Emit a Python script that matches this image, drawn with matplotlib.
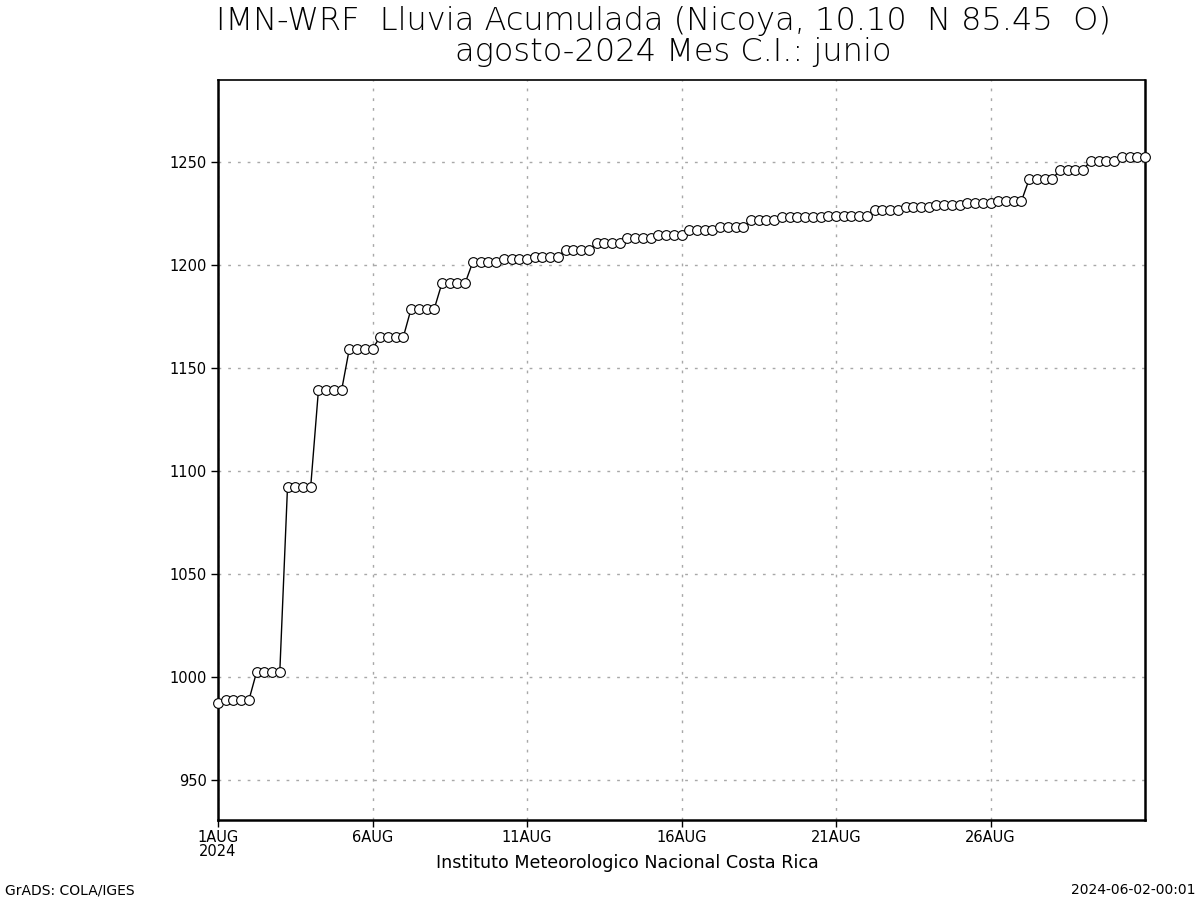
import matplotlib
matplotlib.use("Agg")
import matplotlib.pyplot as plt
import numpy as np

#-------------------------------------------------------------------------------
# Lluvia acumulada (mm), una salida cada 6 h desde el 1AUG 00Z
#-------------------------------------------------------------------------------
lluvia = [
    987.4,
    988.8, 988.8, 988.8, 988.8,        # 1AUG
    1002.5, 1002.5, 1002.5, 1002.5,    # 2AUG
    1092.4, 1092.4, 1092.4, 1092.4,    # 3AUG
    1139.2, 1139.2, 1139.2, 1139.2,    # 4AUG
    1159.3, 1159.3, 1159.3, 1159.3,    # 5AUG
    1165.2, 1165.2, 1165.2, 1165.2,    # 6AUG
    1178.8, 1178.8, 1178.8, 1178.8,    # 7AUG
    1191.3, 1191.3, 1191.3, 1191.3,    # 8AUG
    1201.6, 1201.6, 1201.6, 1201.6,    # 9AUG
    1202.8, 1202.8, 1202.8, 1202.8,    # 10AUG
    1204.0, 1204.0, 1204.0, 1204.0,    # 11AUG
    1207.5, 1207.5, 1207.5, 1207.5,    # 12AUG
    1210.5, 1210.5, 1210.5, 1210.5,    # 13AUG
    1213.2, 1213.2, 1213.2, 1213.2,    # 14AUG
    1214.8, 1214.8, 1214.8, 1214.8,    # 15AUG
    1217.0, 1217.0, 1217.0, 1217.0,    # 16AUG
    1218.5, 1218.5, 1218.5, 1218.5,    # 17AUG
    1221.7, 1221.7, 1221.7, 1221.7,    # 18AUG
    1223.5, 1223.5, 1223.5, 1223.5,    # 19AUG
    1223.5, 1223.5, 1223.6, 1223.6,    # 20AUG
    1223.8, 1223.8, 1223.8, 1223.8,    # 21AUG
    1226.7, 1226.7, 1226.7, 1226.7,    # 22AUG
    1228.3, 1228.3, 1228.3, 1228.3,    # 23AUG
    1229.0, 1229.0, 1229.0, 1229.0,    # 24AUG
    1230.2, 1230.2, 1230.2, 1230.2,    # 25AUG
    1231.0, 1231.0, 1231.0, 1231.0,    # 26AUG
    1241.6, 1241.6, 1241.6, 1241.6,    # 27AUG
    1246.3, 1246.3, 1246.3, 1246.3,    # 28AUG
    1250.7, 1250.7, 1250.7, 1250.7,    # 29AUG
    1252.5, 1252.5, 1252.5, 1252.5,    # 30AUG
]
paso_h   = 6                                   # horas entre salidas
dias     = np.arange(len(lluvia)) * paso_h / 24.  # dias desde 1AUG 00Z

xticks   = [0, 5, 10, 15, 20, 25]
xlabels  = ['1AUG\n2024', '6AUG', '11AUG', '16AUG', '21AUG', '26AUG']
yticks   = [950, 1000, 1050, 1100, 1150, 1200, 1250]

titulo1  = 'IMN-WRF  Lluvia Acumulada (Nicoya, 10.10  N 85.45  O)'
titulo2  = 'agosto-2024 Mes C.I.: junio'
pie      = 'Instituto Meteorologico Nacional Costa Rica'

#-------------------------------------------------------------------------------
# figura
#-------------------------------------------------------------------------------
plt.rcParams['font.family'] = ['DejaVu Sans']
fig = plt.figure(figsize=(12, 9), dpi=100, facecolor='white')
ax  = fig.add_axes([218/1200, 80/900, 927/1200, 740/900])

ax.plot(dias, lluvia, '-', color='black', lw=1.0,
        marker='o', ms=7.0, mfc='white', mec='black', mew=0.8,
        clip_on=False, zorder=3)

ax.set_xlim(0, 30)
ax.set_ylim(930.6, 1289.8)
ax.set_xticks(xticks)
ax.set_xticklabels(xlabels, fontsize=10.5, linespacing=0.95)
ax.set_yticks(yticks)
ax.tick_params(axis='both', direction='out', length=5, width=1,
               labelsize=10.5, pad=3)
ax.tick_params(axis='x', pad=2)

ax.grid(True, color='#a8a8a8', ls=(0, (2, 5)), lw=1.0)
for s in ax.spines.values():
    s.set_linewidth(1.8)
ax.spines['top'].set_linewidth(1.2)

fig.text(663/1200, 1 - 21/900, titulo1, ha='center', va='center',
         fontsize=23, fontweight='light')
fig.text(673/1200, 1 - 52/900, titulo2, ha='center', va='center',
         fontsize=23, fontweight='light')
fig.text(627/1200, 1 - 863/900, pie, ha='center', va='center', fontsize=12.6)
fig.text(5/1200, 1 - 890/900, 'GrADS: COLA/IGES', ha='left', va='center', fontsize=10)
fig.text(1195/1200, 1 - 890/900, '2024-06-02-00:01', ha='right', va='center', fontsize=10)

fig.savefig('out.png', dpi=100, facecolor='white')
